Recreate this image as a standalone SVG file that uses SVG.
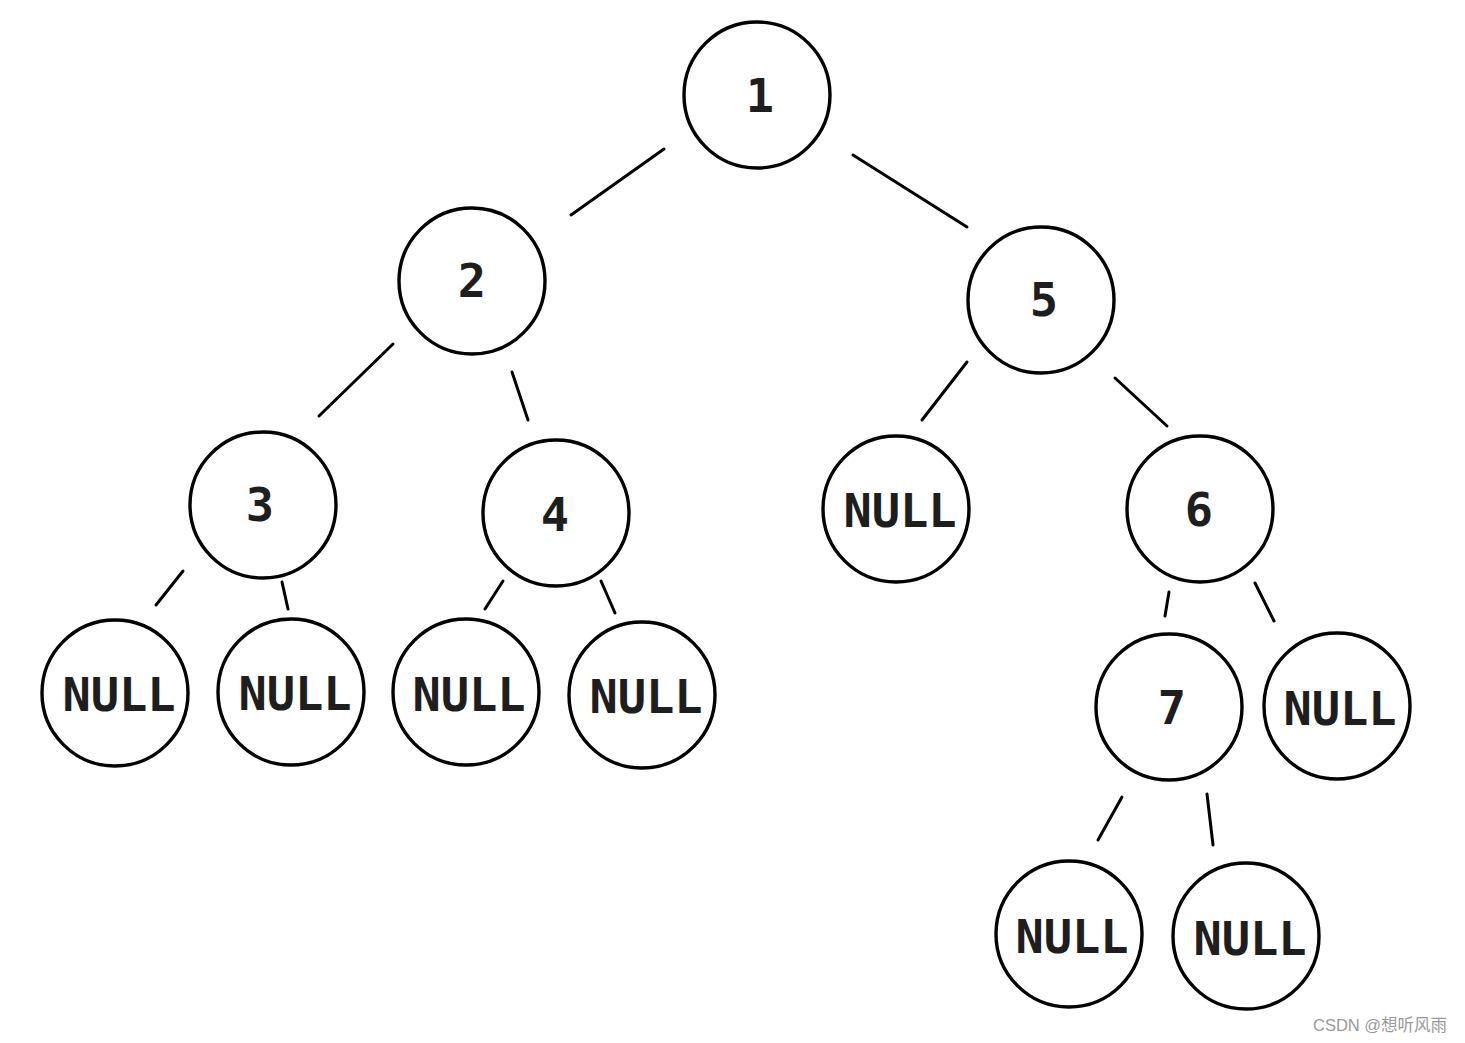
<svg xmlns="http://www.w3.org/2000/svg" width="1465" height="1043" viewBox="0 0 1465 1043">
<style>
.n circle{fill:#fff;stroke:#000;stroke-width:3.4}
.n text{font-family:"DejaVu Sans Mono",monospace;font-weight:bold;font-size:47px;fill:#1e1e1e;text-anchor:middle}
.e line{stroke:#000;stroke-width:3;stroke-linecap:round}
.wm{font-family:"Liberation Sans","Noto Sans CJK SC",sans-serif;font-size:16.5px;fill:#999}
</style>
<rect width="1465" height="1043" fill="#fff"/>
<g class="e" id="connectors">
<line x1="664" y1="149" x2="571" y2="215"/>
<line x1="853" y1="155" x2="967" y2="227"/>
<line x1="393" y1="344" x2="319" y2="416"/>
<line x1="512" y1="372" x2="528" y2="420"/>
<line x1="967" y1="362" x2="922" y2="420"/>
<line x1="1115" y1="378" x2="1167" y2="426"/>
<line x1="183" y1="571" x2="156" y2="605"/>
<line x1="282" y1="582" x2="288" y2="609"/>
<line x1="503" y1="581" x2="485" y2="609"/>
<line x1="601" y1="581" x2="615" y2="613"/>
<line x1="1169" y1="592" x2="1165" y2="616"/>
<line x1="1255" y1="583" x2="1274" y2="621"/>
<line x1="1122" y1="797" x2="1098" y2="840"/>
<line x1="1207" y1="794" x2="1213" y2="845"/>
</g>
<g class="n" id="n1"><circle cx="757" cy="95" r="73"/><text x="760" y="112">1</text></g>
<g class="n" id="n2"><circle cx="472" cy="281" r="73"/><text x="472" y="297">2</text></g>
<g class="n" id="n5"><circle cx="1041" cy="300" r="73"/><text x="1044" y="316">5</text></g>
<g class="n" id="n3"><circle cx="263" cy="505" r="73"/><text x="260" y="521">3</text></g>
<g class="n" id="n4"><circle cx="556" cy="513" r="73"/><text x="555" y="531">4</text></g>
<g class="n" id="null5"><circle cx="896" cy="509" r="73"/><text x="900" y="527">NULL</text></g>
<g class="n" id="n6"><circle cx="1200" cy="509" r="73"/><text x="1199" y="526">6</text></g>
<g class="n" id="null3a"><circle cx="115" cy="693" r="73"/><text x="119" y="711">NULL</text></g>
<g class="n" id="null3b"><circle cx="291" cy="692" r="73"/><text x="295" y="710">NULL</text></g>
<g class="n" id="null4a"><circle cx="466" cy="692" r="73"/><text x="469" y="711">NULL</text></g>
<g class="n" id="null4b"><circle cx="642" cy="695" r="73"/><text x="646" y="713">NULL</text></g>
<g class="n" id="n7"><circle cx="1169" cy="707" r="73"/><text x="1172" y="724">7</text></g>
<g class="n" id="null6"><circle cx="1337" cy="706" r="73"/><text x="1340" y="725">NULL</text></g>
<g class="n" id="null7a"><circle cx="1069" cy="934" r="73"/><text x="1072" y="953">NULL</text></g>
<g class="n" id="null7b"><circle cx="1246" cy="936" r="73"/><text x="1250" y="955">NULL</text></g>
<text class="wm" x="1313" y="1031">CSDN @想听风雨</text>
</svg>
